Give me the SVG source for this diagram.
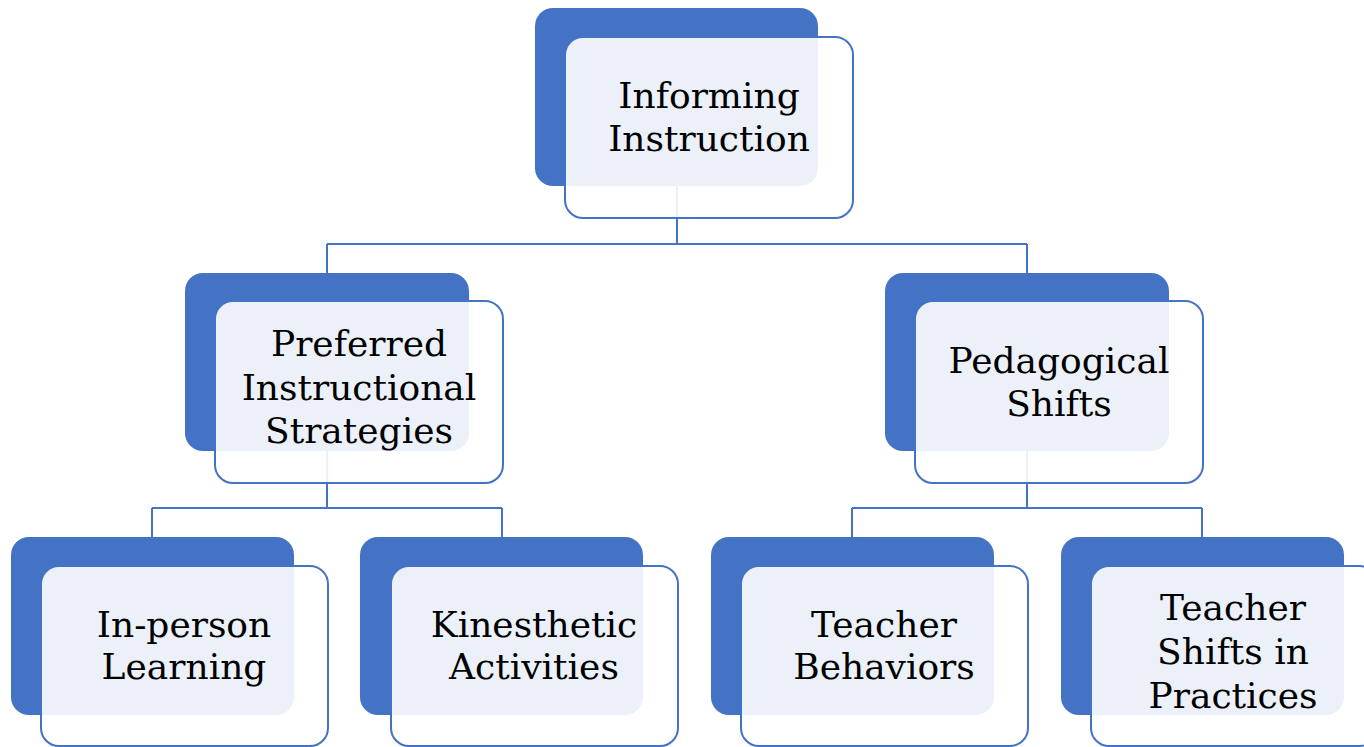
<svg xmlns="http://www.w3.org/2000/svg" width="1364" height="747" viewBox="0 0 1364 747">
<style>
.back{fill:#4472C4;}
.front{fill:#FFFFFF;fill-opacity:0.9;stroke:#4472C4;stroke-width:2;}
.conn{fill:none;stroke:#4472C4;stroke-width:2;}
text{font-family:"DejaVu Serif","Liberation Serif",serif;font-size:36px;fill:#000;text-anchor:middle;}
</style>
<rect width="1364" height="747" fill="#FFFFFF"/>
<g id="connectors">
<path class="conn" d="M677 186 V244 M327 244 H1027 M327 244 V273 M1027 244 V273"/>
<path class="conn" d="M327 451 V508 M152 508 H502 M152 508 V537 M502 508 V537"/>
<path class="conn" d="M1027 451 V508 M852 508 H1202 M852 508 V537 M1202 508 V537"/>
</g>
<g id="node-informing">
<rect class="back" x="535" y="8" width="283" height="178" rx="18"/>
<rect class="front" x="565" y="37" width="288" height="181" rx="18"/>
<text x="709" y="108">Informing</text>
<text x="709" y="151">Instruction</text>
</g>
<g id="node-preferred">
<rect class="back" x="185" y="273" width="284" height="178" rx="18"/>
<rect class="front" x="215" y="301" width="288" height="182" rx="18"/>
<text x="359" y="356">Preferred</text>
<text x="359" y="400">Instructional</text>
<text x="359" y="443">Strategies</text>
</g>
<g id="node-pedagogical">
<rect class="back" x="885" y="273" width="284" height="178" rx="18"/>
<rect class="front" x="915" y="301" width="288" height="182" rx="18"/>
<text x="1059" y="373">Pedagogical</text>
<text x="1059" y="416">Shifts</text>
</g>
<g id="node-inperson">
<rect class="back" x="11" y="537" width="283" height="178" rx="18"/>
<rect class="front" x="41" y="566" width="287" height="180" rx="18"/>
<text x="184" y="637">In-person</text>
<text x="184" y="679">Learning</text>
</g>
<g id="node-kinesthetic">
<rect class="back" x="360" y="537" width="283" height="178" rx="18"/>
<rect class="front" x="391" y="566" width="287" height="180" rx="18"/>
<text x="534" y="637">Kinesthetic</text>
<text x="534" y="679">Activities</text>
</g>
<g id="node-behaviors">
<rect class="back" x="711" y="537" width="283" height="178" rx="18"/>
<rect class="front" x="741" y="566" width="287" height="180" rx="18"/>
<text x="884" y="637">Teacher</text>
<text x="884" y="679">Behaviors</text>
</g>
<g id="node-shifts">
<rect class="back" x="1061" y="537" width="283" height="178" rx="18"/>
<rect class="front" x="1091" y="566" width="287" height="180" rx="18"/>
<text x="1233" y="620">Teacher</text>
<text x="1233" y="664">Shifts in</text>
<text x="1233" y="708">Practices</text>
</g>
</svg>
